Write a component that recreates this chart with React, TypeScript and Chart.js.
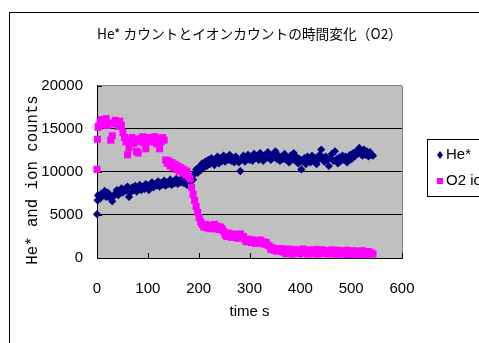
import React, { useEffect, useRef } from "react";
import { Chart, registerables } from "chart.js";

Chart.register(...registerables);

const TITLE = "He* カウントとイオンカウントの時間変化（O2）";
const X_TITLE = "time s";
const Y_TITLE = "He* and ion counts";
const SERIES_NAMES = ["He*", "O2 ion"];
const SERIES_COLORS = ["#000080", "#FF00FF"];

const X_TICKS = [0, 100, 200, 300, 400, 500, 600];
const Y_TICKS = [0, 5000, 10000, 15000, 20000];

const TIME_S = [
  0, 1, 2,
  3, 6, 9, 12, 15, 18, 21, 24, 27, 30,
  33, 36, 39, 42, 45, 48, 51, 54, 57, 60,
  63, 66, 69, 72, 75, 78, 81, 84, 87, 90,
  93, 96, 99, 102, 105, 108, 111, 114, 117, 120,
  123, 126, 129, 132, 135, 138, 141, 144, 147, 150,
  153, 156, 159, 162, 165, 168, 171, 174, 177, 180,
  183, 186, 189, 192, 195, 198, 201, 204, 207, 210,
  213, 216, 219, 222, 225, 228, 231, 234, 237, 240,
  243, 246, 249, 252, 255, 258, 261, 264, 267, 270,
  273, 276, 279, 282, 285, 288, 291, 294, 297, 300,
  303, 306, 309, 312, 315, 318, 321, 324, 327, 330,
  333, 336, 339, 342, 345, 348, 351, 354, 357, 360,
  363, 366, 369, 372, 375, 378, 381, 384, 387, 390,
  393, 396, 399, 402, 405, 408, 411, 414, 417, 420,
  423, 426, 429, 432, 435, 438, 441, 444, 447, 450,
  453, 456, 459, 462, 465, 468, 471, 474, 477, 480,
  483, 486, 489, 492, 495, 498, 501, 504, 507, 510,
  513, 516, 519, 522, 525, 528, 531, 534, 537, 540,
  543,
];

const HE_COUNTS = [
  5100, 6700, 7300,
  7200, 6900, 7500, 7300, 7800, 7100, 7600, 7400, 6900, 6600,
  7200, 7500, 7900, 7300, 7700, 8100, 7600, 8000, 7800, 8300,
  7100, 7600, 8200, 7900, 8400, 7700, 8100, 8500, 7900, 8300,
  8000, 8600, 8200, 7900, 8500, 8800, 8200, 8600, 8400, 8900,
  8300, 8700, 8500, 9000, 8400, 8800, 8600, 9100, 8500, 8900,
  8700, 9200, 8600, 9000, 8800, 9300, 8700, 9100, 8500, 9000,
  8800, 9400, 9100, 9800, 10300, 9900, 10600, 10200, 11000, 10500,
  11200, 10700, 11400, 10900, 11600, 11100, 10800, 11500, 11800, 11000,
  11600, 11300, 11900, 11200, 11700, 11400, 12000, 11300, 11600, 11100,
  11800, 11400, 11100, 10100, 11500, 11900, 11200, 11700, 12000, 11400,
  11800, 11300, 12100, 11600, 11900, 11400, 12200, 11700, 11300, 11900,
  11600, 12300, 11800, 11400, 12000, 11700, 12400, 11500, 11900, 11300,
  11800, 11500, 12100, 11400, 11700, 11100, 11900, 11600, 12200, 11300,
  11700, 11000, 11500, 10300, 11200, 11600, 10900, 11800, 11400, 11100,
  11900, 11300, 11600, 10900, 11400, 12000, 12600, 11700, 11200, 11800,
  11400, 10700, 11600, 12100, 11300, 12400, 11500, 11000, 11700, 11300,
  11900, 11400, 11800, 11100, 11600, 12000, 11500, 12200, 11800, 12400,
  12100, 12800, 12300, 11900, 12600, 12000, 12400, 11800, 12300, 12000,
  11900,
];

const O2_ION_COUNTS = [
  10300, 13800, 15200,
  15300, 15800, 16100, 15500, 15900, 16200, 15400, 15700, 13700, 14200,
  15600, 16000, 15800, 15300, 15900, 15400, 14600, 14000, 13500, 12000,
  12800, 13600, 14000, 13300, 13800, 12400, 12200, 13500, 13900, 14100,
  13400, 12700, 13700, 14000, 13500, 13900, 13600, 14100, 13300, 13800,
  12700, 13500, 14000, 13700, 11400, 11000, 11300, 10700, 11100, 10500,
  10900, 10300, 10700, 10100, 10500, 9900, 10300, 9700, 10100, 9500,
  9200, 8200, 7400, 6700, 6000, 5300, 4700, 4200, 3900, 3600,
  3900, 3500, 3800, 3400, 3700, 3500, 3900, 3400, 3700, 3300,
  3600, 3400, 3100, 2700, 2500, 2900, 2600, 2400, 2800, 2500,
  2700, 2300, 2600, 2800, 2400, 2500, 2100, 1900, 2200, 2000,
  1800, 2100, 1900, 1700, 2000, 1800, 2100, 1700, 1900, 1600,
  1800, 1500, 1400, 1000, 1200, 900, 1100, 800, 1000, 850,
  1100, 700, 950, 500, 1050, 650, 900, 450, 1000, 750,
  600, 950, 500, 850, 1050, 550, 800, 450, 950, 700,
  500, 900, 650, 1000, 450, 800, 550, 950, 600, 700,
  450, 850, 600, 950, 500, 750, 400, 900, 550, 700,
  450, 850, 550, 900, 400, 750, 500, 850, 450, 650,
  400, 800, 500, 850, 450, 700, 400, 750, 500, 600,
  450,
];

const CANVAS_W = 500;
const CANVAS_H = 343;
const SANS = "'Liberation Sans', Arial, sans-serif";

const decorPlugin = {
  id: "excelDecor",
  beforeDraw(chart: any) {
    const { ctx, chartArea: a } = chart;
    ctx.save();
    ctx.fillStyle = "#ffffff";
    ctx.fillRect(0, 0, chart.width, chart.height);
    ctx.strokeStyle = "#000000";
    ctx.lineWidth = 1;
    ctx.strokeRect(9.5, 12.5, chart.width + 40, chart.height + 40);
    ctx.fillStyle = "#C0C0C0";
    ctx.fillRect(a.left, a.top, a.right - a.left, a.bottom - a.top);
    ctx.restore();
  },
  beforeDatasetsDraw(chart: any) {
    const { ctx, chartArea: a, scales } = chart;
    ctx.save();
    ctx.strokeStyle = "#000000";
    ctx.lineWidth = 1;
    ctx.beginPath();
    for (const v of X_TICKS) {
      const px = Math.round(scales.x.getPixelForValue(v)) + 0.5;
      ctx.moveTo(px, a.bottom);
      ctx.lineTo(px, a.bottom - 5);
    }
    for (const v of Y_TICKS) {
      const py = Math.round(scales.y.getPixelForValue(v)) + 0.5;
      ctx.moveTo(a.left, py);
      ctx.lineTo(a.left + 5, py);
    }
    ctx.stroke();
    ctx.restore();
  },
  afterDraw(chart: any) {
    const { ctx } = chart;
    // y axis title
    ctx.save();
    ctx.translate(33, 180);
    ctx.rotate(-Math.PI / 2);
    ctx.font = "15.7px 'Liberation Mono', monospace";
    ctx.fillStyle = "#000000";
    ctx.textAlign = "center";
    ctx.textBaseline = "middle";
    ctx.fillText(Y_TITLE, 0, 0);
    ctx.restore();

    // legend
    ctx.save();
    ctx.fillStyle = "#ffffff";
    ctx.fillRect(427.5, 139.5, 120, 57);
    ctx.strokeStyle = "#000000";
    ctx.lineWidth = 1;
    ctx.strokeRect(427.5, 139.5, 120, 57);
    const rows = [155, 181];
    chart.data.datasets.forEach((ds: any, i: number) => {
      const y = rows[i];
      ctx.fillStyle = ds.backgroundColor;
      if (ds.pointStyle === "rectRot") {
        ctx.beginPath();
        ctx.moveTo(440, y - 4);
        ctx.lineTo(443, y);
        ctx.lineTo(440, y + 4);
        ctx.lineTo(437, y);
        ctx.closePath();
        ctx.fill();
      } else {
        ctx.fillRect(437, y - 3, 6, 6);
      }
      ctx.fillStyle = "#000000";
      ctx.font = `15px ${SANS}`;
      ctx.textAlign = "left";
      ctx.textBaseline = "middle";
      ctx.fillText(ds.label, 446, y);
    });
    ctx.restore();
  },
};

export default function App() {
  const canvasRef = useRef<HTMLCanvasElement | null>(null);

  useEffect(() => {
    const canvas = canvasRef.current;
    if (!canvas) return;
    const heData = TIME_S.map((t, i) => ({ x: t, y: HE_COUNTS[i] }));
    const o2Data = TIME_S.map((t, i) => ({ x: t, y: O2_ION_COUNTS[i] }));

    const chart = new Chart(canvas, {
      type: "scatter",
      data: {
        datasets: [
          {
            label: SERIES_NAMES[0],
            data: heData,
            pointStyle: "rectRot",
            pointRadius: 4.1,
            pointHoverRadius: 4.1,
            backgroundColor: SERIES_COLORS[0],
            borderColor: SERIES_COLORS[0],
            borderWidth: 0,
            order: 1,
            clip: false,
          } as any,
          {
            label: SERIES_NAMES[1],
            data: o2Data,
            pointStyle: "rect",
            pointRadius: 5,
            pointHoverRadius: 5,
            backgroundColor: SERIES_COLORS[1],
            borderColor: SERIES_COLORS[1],
            borderWidth: 0,
            order: 0,
            clip: false,
          } as any,
        ],
      },
      options: {
        animation: false,
        responsive: false,
        devicePixelRatio: 1,
        events: [],
        layout: { padding: { left: 0, right: CANVAS_W - 402, top: 0, bottom: 0 } },
        plugins: {
          legend: { display: false },
          tooltip: { enabled: false },
          title: {
            display: true,
            text: TITLE,
            fullSize: false,
            color: "#000000",
            font: { family: "'Noto Sans CJK JP', sans-serif", size: 13.8, weight: "normal" },
            padding: { top: 25, bottom: 44.4 },
          },
        },
        scales: {
          x: {
            type: "linear",
            min: 0,
            max: 600,
            afterBuildTicks: (s: any) => {
              s.ticks = X_TICKS.map((v) => ({ value: v }));
            },
            ticks: {
              color: "#000000",
              font: { family: SANS, size: 15 },
              padding: 22,
              maxRotation: 0,
              autoSkip: false,
              callback: (v: any) => String(v),
            },
            grid: {
              display: true,
              drawTicks: false,
              color: (c: any) => (c.tick && c.tick.value === 600 ? "#808080" : "rgba(0,0,0,0)"),
            },
            border: { display: true, color: "#000000", width: 1 },
            title: {
              display: true,
              text: X_TITLE,
              color: "#000000",
              font: { family: SANS, size: 15 },
              padding: { top: 0, bottom: 22 },
            },
            afterFit: (s: any) => {
              s.height = CANVAS_H - 258;
            },
          },
          y: {
            type: "linear",
            min: 0,
            max: 20000,
            afterBuildTicks: (s: any) => {
              s.ticks = Y_TICKS.map((v) => ({ value: v }));
            },
            ticks: {
              color: "#000000",
              font: { family: SANS, size: 15 },
              padding: 14,
              callback: (v: any) => String(v),
            },
            grid: {
              display: true,
              drawTicks: false,
              color: (c: any) => (c.tick && c.tick.value === 20000 ? "#808080" : "#000000"),
            },
            border: { display: true, color: "#000000", width: 1 },
            afterFit: (s: any) => {
              s.width = 97;
            },
          },
        },
      } as any,
      plugins: [decorPlugin],
    });

    return () => {
      chart.destroy();
    };
  }, []);

  return (
    <div
      style={{
        position: "fixed",
        left: 0,
        top: 0,
        width: 479,
        height: 343,
        overflow: "hidden",
        background: "#ffffff",
      }}
    >
      <canvas
        ref={canvasRef}
        width={CANVAS_W}
        height={CANVAS_H}
        style={{ display: "block", width: CANVAS_W, height: CANVAS_H }}
      />
    </div>
  );
}
